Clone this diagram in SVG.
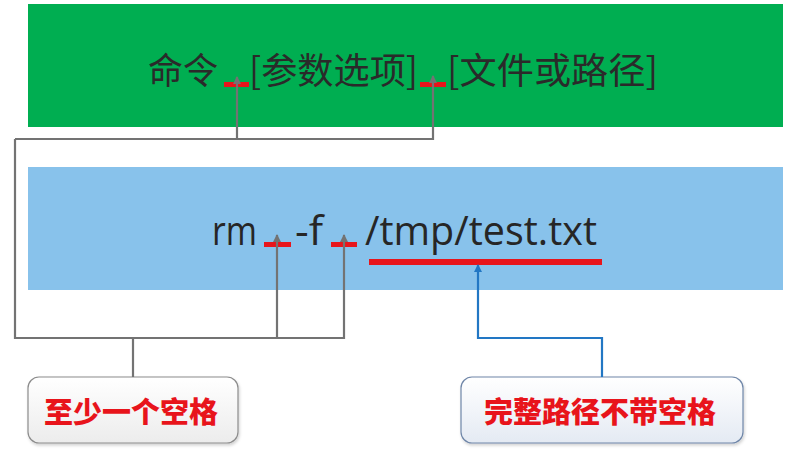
<svg xmlns="http://www.w3.org/2000/svg" width="796" height="454" viewBox="0 0 796 454">
<style>
.bar{stroke:none}
.cjk{font-family:"Noto Sans CJK SC","Noto Sans",sans-serif;fill:#2a2a2a;font-size:36px}
.cmd{font-family:"Open Sans","Noto Sans",sans-serif;fill:#262626;font-size:40px}
.lbl{font-family:"Noto Sans CJK SC",sans-serif;fill:#E8141B;font-size:29px;font-weight:900}
.mark{fill:#E8151B}
.gray{fill:none;stroke:#737373;stroke-width:2.2}
.blue{fill:none;stroke:#2277C4;stroke-width:2.2}
</style>
<defs>
<marker id="ag" viewBox="0 0 8 8" refX="7" refY="4" markerWidth="8" markerHeight="8" markerUnits="userSpaceOnUse" orient="auto">
<path d="M0,0 L8,4 L0,8 Z" fill="#737373"/>
</marker>
<marker id="ab" viewBox="0 0 8 8" refX="7" refY="4" markerWidth="8" markerHeight="8" markerUnits="userSpaceOnUse" orient="auto">
<path d="M0,0 L8,4 L0,8 Z" fill="#2277C4"/>
</marker>
<linearGradient id="gGray" x1="0" y1="0" x2="0" y2="1">
<stop offset="0" stop-color="#ffffff"/>
<stop offset="1" stop-color="#ececec"/>
</linearGradient>
<linearGradient id="gBlue" x1="0" y1="0" x2="0" y2="1">
<stop offset="0" stop-color="#ffffff"/>
<stop offset="1" stop-color="#e4eaf3"/>
</linearGradient>
<filter id="sh" x="-10%" y="-10%" width="120%" height="130%">
<feDropShadow dx="1" dy="2" stdDeviation="1.5" flood-color="#000" flood-opacity="0.18"/>
</filter>
</defs>
<rect width="796" height="454" fill="#ffffff"/>

<g id="syntax">
<rect class="bar" x="28" y="4" width="755" height="123" fill="#00AE51"/>
<text class="cjk" x="148" y="84" textLength="70" lengthAdjust="spacingAndGlyphs">命令</text>
<text class="cjk" x="249" y="84" textLength="169" lengthAdjust="spacingAndGlyphs">[参数选项]</text>
<text class="cjk" x="447" y="84" textLength="211" lengthAdjust="spacingAndGlyphs">[文件或路径]</text>
<rect class="mark" x="224" y="82" width="25" height="5"/>
<rect class="mark" x="420" y="82" width="26" height="5"/>
</g>

<g id="example">
<rect class="bar" x="28" y="167" width="755" height="123" fill="#88C2EB"/>
<text class="cmd" x="212" y="245" textLength="45" lengthAdjust="spacingAndGlyphs">rm</text>
<text class="cmd" x="295" y="245" textLength="28" lengthAdjust="spacingAndGlyphs">-f</text>
<text class="cmd" x="365" y="245" textLength="232" lengthAdjust="spacingAndGlyphs">/tmp/test.txt</text>
<rect class="mark" x="264" y="242" width="27" height="5"/>
<rect class="mark" x="331" y="242" width="26" height="5"/>
<rect class="mark" x="369" y="259" width="233" height="6"/>
</g>

<g id="label-space">
<rect x="28" y="377" width="210" height="66" rx="11" fill="url(#gGray)" stroke="#8c8c8c" stroke-width="1.2" filter="url(#sh)"/>
<text class="lbl" x="131" y="423" text-anchor="middle">至少一个空格</text>
</g>

<g id="label-path">
<rect x="461" y="377" width="282" height="66" rx="11" fill="url(#gBlue)" stroke="#6f86a8" stroke-width="1.2" filter="url(#sh)"/>
<text class="lbl" x="600" y="423" text-anchor="middle">完整路径不带空格</text>
</g>

<g id="connectors">
<path class="gray" d="M15,139 H433 V76" marker-end="url(#ag)"/>
<path class="gray" d="M237,139 V77" marker-end="url(#ag)"/>
<path class="gray" d="M15,139 V338 H344 V235" marker-end="url(#ag)"/>
<path class="gray" d="M277,338 V235" marker-end="url(#ag)"/>
<path class="gray" d="M133,338 V377"/>
<path class="blue" d="M602,377 V338 H478 V265" marker-end="url(#ab)"/>
</g>
</svg>
